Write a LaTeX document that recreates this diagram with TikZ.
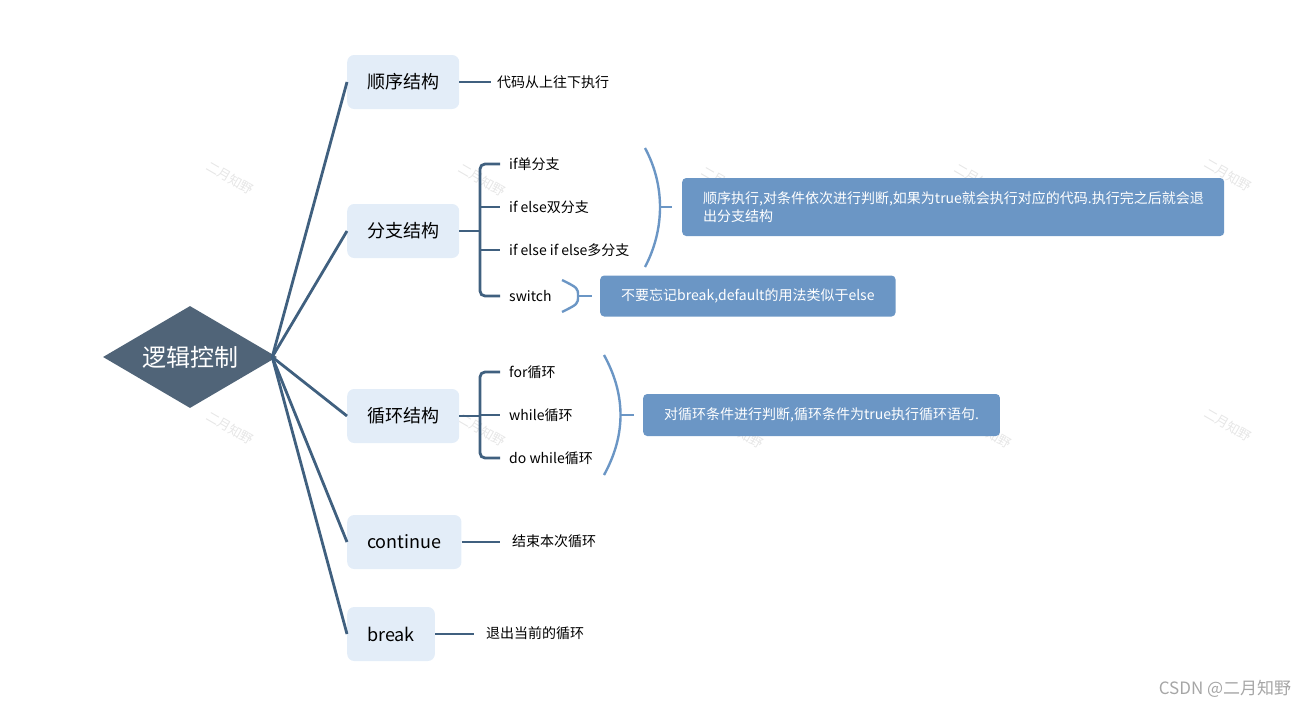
\documentclass[tikz,border=0pt]{standalone}
\usepackage{fontspec}
\setmainfont{Noto Sans CJK SC}
\usetikzlibrary{shapes.geometric, positioning, calc}
\definecolor{rootfill}{HTML}{506478}
\definecolor{linkcol}{HTML}{40607F}
\definecolor{topicfill}{HTML}{E3EDF8}
\definecolor{notefill}{HTML}{6B96C5}
\definecolor{markgray}{HTML}{E6E6E6}

\begin{document}
\begin{tikzpicture}[x=1pt, y=-1pt,
    topic/.style={fill=topicfill, rounded corners=7pt, anchor=west, minimum height=54pt,
        inner xsep=20pt, font=\fontsize{18}{20}\selectfont},
    leaf/.style={anchor=west, inner sep=0pt, font=\fontsize{14}{16}\selectfont},
    note/.style={fill=notefill, rounded corners=4pt, anchor=west, text=white, align=left,
        inner xsep=21pt, font=\fontsize{14}{18}\selectfont},
    link/.style={draw=linkcol, line width=2.8pt},
    brace/.style={draw=notefill, line width=2.4pt},
    wmark/.style={text=markgray, rotate=-30, font=\fontsize{13}{15}\selectfont}]
    \useasboundingbox (0,0) rectangle (1309,707);

    \foreach \wx/\wy in {230/178, 482/180, 725/183, 978/180, 1228/175,
                         230/428, 482/430, 740/432, 988/432, 1228/425}
        \node[wmark] at (\wx,\wy) {二月知野};

    \node[diamond, fill=rootfill, aspect=1.7, minimum width=174pt, minimum height=102pt,
          inner sep=0pt, text=white, font=\fontsize{24}{26}\selectfont] (root) at (190,357) {逻辑控制};

    \node[topic] (seq) at (347,82) {顺序结构};
    \node[topic] (br) at (347,231) {分支结构};
    \node[topic] (lp) at (347,416) {循环结构};
    \node[topic] (cont) at (347,542) {continue};
    \node[topic] (brk) at (347,634) {break};

    \foreach \t in {seq, br, lp, cont, brk}
        \draw[link] ([xshift=-5pt]root.east) -- (\t.west);

    % sequence
    \node[leaf] (seq1) at (497,82) {代码从上往下执行};
    \draw[link, shorten >=6pt] (seq.east) -- (seq.east -| seq1.west);

    % branches
    \node[leaf] (b1) at (509,164) {if单分支};
    \node[leaf] (b2) at (509,207) {if else双分支};
    \node[leaf] (b3) at (509,250) {if else if else多分支};
    \node[leaf] (b4) at (509,296) {switch};
    \coordinate (bj) at (480,231);
    \draw[link] (br.east) -- (bj);
    \draw[link, rounded corners=5pt] ([xshift=-9pt]b1.west) -| (bj) |- ([xshift=-9pt]b4.west);
    \draw[link] (bj |- b2.west) -- ([xshift=-9pt]b2.west);
    \draw[link] (bj |- b3.west) -- ([xshift=-9pt]b3.west);

    \node[note, text width=500pt, minimum height=58pt] (n1) at (682,207)
        {顺序执行,对条件依次进行判断,如果为true就会执行对应的代码.执行完之后就会退\\出分支结构};
    \coordinate (p1) at (660,207);
    \draw[brace] (645,148) .. controls (665,185) and (665,229) .. (645,267);
    \draw[brace] (p1) -- ([xshift=-10pt]n1.west);

    \node[note, minimum height=41pt] (n2) at (600,296) {不要忘记break,default的用法类似于else};
    \coordinate (p2) at (578,296);
    \draw[brace] (562,280) .. controls (578,288) .. (p2) .. controls (578,304) .. (562,312);
    \draw[brace] (p2) -- ([xshift=-8pt]n2.west);

    % loops
    \node[leaf] (l1) at (509,372) {for循环};
    \node[leaf] (l2) at (509,415) {while循环};
    \node[leaf] (l3) at (509,458) {do while循环};
    \coordinate (lj) at (480,416);
    \draw[link] (lp.east) -- (lj);
    \draw[link, rounded corners=5pt] ([xshift=-9pt]l1.west) -| (lj) |- ([xshift=-9pt]l3.west);
    \draw[link] (lj |- l2.west) -- ([xshift=-9pt]l2.west);

    \node[note, minimum height=42pt] (n3) at (643,415) {对循环条件进行判断,循环条件为true执行循环语句.};
    \coordinate (p3) at (621,415);
    \draw[brace] (604,355) .. controls (626,395) and (626,435) .. (604,475);
    \draw[brace] (p3) -- ([xshift=-9pt]n3.west);

    % continue / break
    \node[leaf] (c1) at (512,541) {结束本次循环};
    \draw[link, shorten >=12pt] (cont.east) -- (cont.east -| c1.west);
    \node[leaf] (k1) at (486,633) {退出当前的循环};
    \draw[link, shorten >=12pt] (brk.east) -- (brk.east -| k1.west);

    \node[text=gray!70, font=\fontsize{17}{19}\selectfont] (sig) at (1225,689) {CSDN @二月知野};
\end{tikzpicture}
\end{document}
